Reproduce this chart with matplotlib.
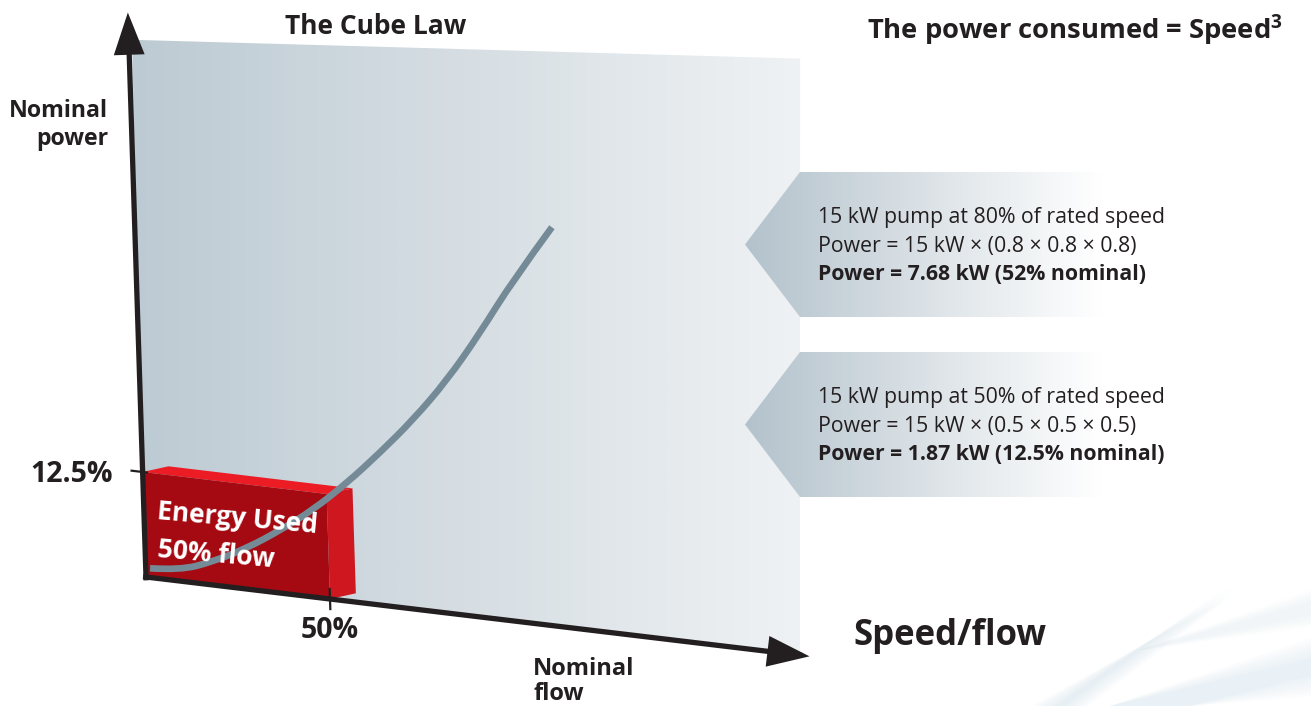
import numpy as np
import matplotlib
matplotlib.use("Agg")
import matplotlib.pyplot as plt
from matplotlib.patches import Polygon, PathPatch, FancyArrowPatch
from matplotlib.path import Path
from matplotlib.transforms import Affine2D
from matplotlib.colors import LinearSegmentedColormap

# ---------------- data ----------------
# curve: speed/flow (% nominal) vs power (% nominal, in the drawing's frame)
flow_pct = [1.2, 9.3, 18.4, 27.8, 37.0, 46.1, 55.6, 64.9, 74.2, 83.8, 93.2, 102.7, 113.8]
power_pct = [1.1, 1.3, 2.8, 4.9, 7.5, 10.4, 14.1, 18.2, 22.6, 27.8, 33.9, 40.7, 47.6]
box_flow = 50.0      # energy used block: 50 % flow
box_power = 12.5     # -> 12.5 % power
x_ticks = [50.0]
x_tick_labels = ["50%"]
y_ticks = [12.5]
y_tick_labels = ["12.5%"]
title_left = "The Cube Law"
title_right = r"The power consumed = Speed$^{\mathrm{3}}$"
callout_80 = ["15 kW pump at 80% of rated speed",
              "Power = 15 kW × (0.8 × 0.8 × 0.8)",
              "Power = 7.68 kW (52% nominal)"]
callout_50 = ["15 kW pump at 50% of rated speed",
              "Power = 15 kW × (0.5 × 0.5 × 0.5)",
              "Power = 1.87 kW (12.5% nominal)"]

# ---------------- figure ----------------
W, H = 1311, 706
plt.rcParams["font.family"] = ["Open Sans", "DejaVu Sans"]
plt.rcParams["mathtext.fontset"] = "custom"
plt.rcParams["mathtext.rm"] = "Open Sans:bold"
plt.rcParams["mathtext.bf"] = "Open Sans:bold"
fig = plt.figure(figsize=(W / 100, H / 100), dpi=100)
ax = fig.add_axes([0, 0, 1, 1])
ax.set_xlim(0, W)
ax.set_ylim(H, 0)
ax.axis("off")

# perspective-like (affine) frame: (flow %, power %) -> pixels
T = Affine2D().from_values(3.68, 0.44, -0.27, -8.4, 146, 577) + ax.transData

INK = "#231f20"

def grad_fill(poly_xy, x0, x1, stops, transform=None, z=0):
    tr = transform if transform is not None else ax.transData
    patch = Polygon(poly_xy, closed=True, facecolor="none", edgecolor="none",
                    transform=tr, zorder=z)
    ax.add_patch(patch)
    cmap = LinearSegmentedColormap.from_list("g", stops)
    g = np.linspace(0, 1, 512).reshape(1, -1)
    im = ax.imshow(g, cmap=cmap, extent=[x0, x1, H, 0], aspect="auto",
                   zorder=z, interpolation="bilinear")
    im.set_clip_path(patch)

# background panel (in frame coordinates)
panel = [(-0.5, 0), (177.7, 0), (183.0, 71.3), (0.9, 64.0)]
grad_fill(panel, 128, 802, [(0.0, "#bccad3"), (0.5, "#d6dee3"), (1.0, "#eff2f4")],
          transform=T, z=1)

# very faint decorative swoosh, bottom-right corner (tapered streaks)
for k in range(7):
    w = 4 + 4 * k
    ax.add_patch(Polygon([(1060 - w, 706), (1230, 585 + k * 2), (1060 + w, 706)],
                         closed=True, facecolor="#d0e0eb", edgecolor="none",
                         alpha=0.08, zorder=1))
for k in range(6):
    w = 4 + 4 * k
    ax.add_patch(Polygon([(1110, 706), (1311, 662 - w), (1311, 672 + w), (1190, 706)],
                         closed=True, facecolor="#cfe1ee", edgecolor="none",
                         alpha=0.08, zorder=1))
for k in range(5):
    w = 3 + 3 * k
    ax.add_patch(Polygon([(1140, 650), (1311, 605 - w), (1311, 612 + w)],
                         closed=True, facecolor="#dce8f0", edgecolor="none",
                         alpha=0.08, zorder=1))

# callout chevrons
for top, bot in [(172, 317), (352, 497)]:
    mid = (top + bot) / 2
    chev = [(745, mid), (800, top), (W, top), (W, bot), (800, bot)]
    grad_fill(chev, 745, W, [(0.0, "#b3c2cc"), (0.35, "#dfe5e9"),
                             (0.63, "#ffffff"), (1.0, "#ffffff")], z=2)

for lines, y0 in [(callout_80, 218), (callout_50, 398)]:
    for i, s in enumerate(lines):
        ax.text(818, y0 + i * 28.5, s, fontsize=15.3, color=INK,
                fontweight="bold" if i == 2 else "normal",
                ha="left", va="center", zorder=5)

# energy used block
d_u, d_v = 7.1, 1.05
front = [(0, 0), (box_flow, 0), (box_flow, box_power), (0, box_power)]
top_face = [(0, box_power), (box_flow, box_power),
            (box_flow + d_u, box_power + d_v), (d_u, box_power + d_v)]
side = [(box_flow, 0), (box_flow + d_u, d_v),
        (box_flow + d_u, box_power + d_v), (box_flow, box_power)]
ax.add_patch(Polygon(top_face, closed=True, facecolor="#ec1c24", edgecolor="none",
                     transform=T, zorder=3))
ax.add_patch(Polygon(side, closed=True, facecolor="#cf1720", edgecolor="none",
                     transform=T, zorder=3))
ax.add_patch(Polygon(front, closed=True, facecolor="#a50a12", edgecolor="none",
                     transform=T, zorder=3))

# cube-law curve (smoothed with quadratic Bezier through midpoints)
pts = np.column_stack([flow_pct, power_pct])
verts = [tuple(pts[0])]
codes = [Path.MOVETO]
for i in range(1, len(pts) - 1):
    m = (pts[i] + pts[i + 1]) / 2 if i < len(pts) - 2 else pts[i + 1]
    verts += [tuple(pts[i]), tuple(m)]
    codes += [Path.CURVE3, Path.CURVE3]
curve = PathPatch(Path(verts, codes), facecolor="none", edgecolor="#748b97",
                  lw=4.8, capstyle="butt", transform=T, zorder=4)
ax.add_patch(curve)

# block label
ax.text(157, 519, "Energy Used", color="white", fontsize=19, fontweight="bold",
        rotation=-5, rotation_mode="anchor", ha="left", va="baseline", zorder=6)
ax.text(157, 557, "50% flow", color="white", fontsize=19, fontweight="bold",
        rotation=-5, rotation_mode="anchor", ha="left", va="baseline", zorder=6)

# axes with arrows
for a, b in [((0, -0.4), (0, 67.2)), ((-0.8, 0), (180.3, 0))]:
    arr = FancyArrowPatch(a, b, transform=T, arrowstyle="-|>,head_length=1.15,head_width=0.42",
                          mutation_scale=20, lw=3.8, color=INK, shrinkA=0, shrinkB=0,
                          joinstyle="miter", capstyle="butt", zorder=7)
    ax.add_patch(arr)

# ticks
for v in y_ticks:
    ax.plot([-3.0, 1.2], [v, v], color=INK, lw=1.6, transform=T, zorder=7)
for u in x_ticks:
    ax.plot([u, u], [-1.2, 1.2], color=INK, lw=1.6, transform=T, zorder=7)

ax.text(113, 475, y_tick_labels[0], fontsize=20.5, fontweight="bold", color=INK,
        ha="right", va="center")
ax.text(330, 630, x_tick_labels[0], fontsize=20.5, fontweight="bold", color=INK,
        ha="center", va="center")

# titles & axis labels
ax.text(376, 27, title_left, fontsize=19, fontweight="bold", color=INK,
        ha="center", va="center")
ax.text(1283, 30, title_right, fontsize=19.7, fontweight="bold", color=INK,
        ha="right", va="center")
ax.text(108, 111, "Nominal", fontsize=16.7, fontweight="bold", color=INK,
        ha="right", va="center")
ax.text(108, 139, "power", fontsize=16.7, fontweight="bold", color=INK,
        ha="right", va="center")
ax.text(533, 669, "Nominal", fontsize=17, fontweight="bold", color=INK,
        ha="left", va="center")
ax.text(533, 694, "flow", fontsize=17, fontweight="bold", color=INK,
        ha="left", va="center")
ax.text(853, 636, "Speed/flow", fontsize=25, fontweight="bold", color=INK,
        ha="left", va="center")

fig.savefig("out.png", dpi=100, facecolor="white")
